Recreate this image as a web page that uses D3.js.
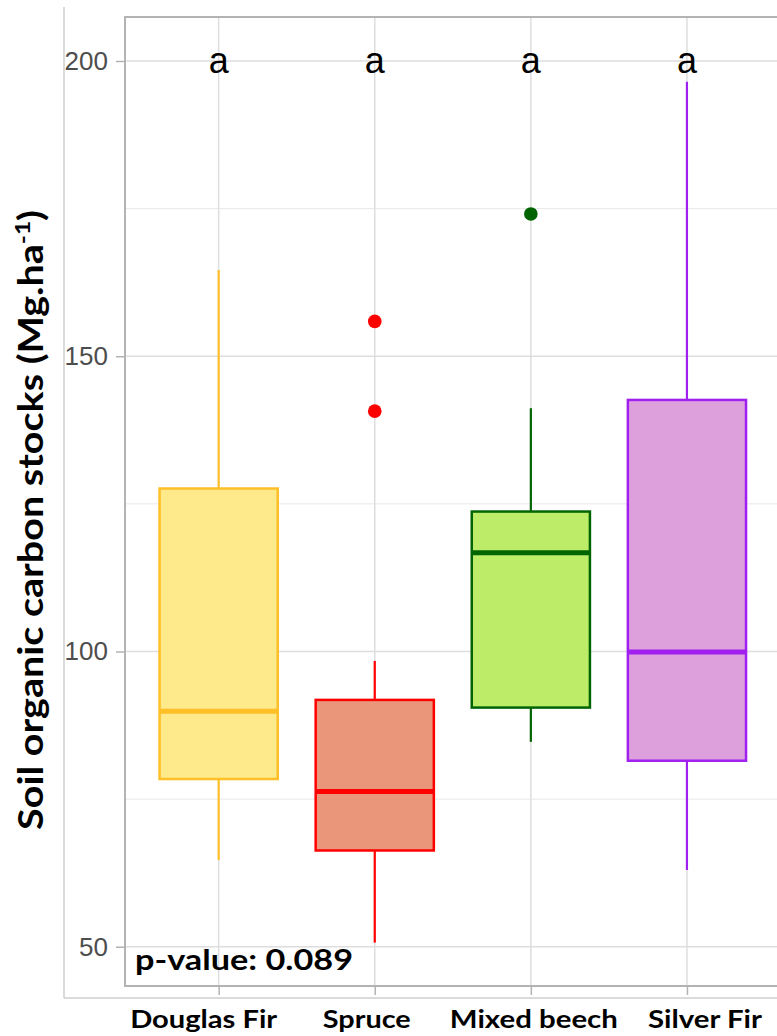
<!DOCTYPE html>
<html>
<head>
<meta charset="utf-8">
<script src="https://cdn.jsdelivr.net/npm/d3@7"></script>
<style>
  html, body { margin: 0; padding: 0; background: #fff; }
  svg { display: block; }
</style>
</head>
<body>
<svg id="chart" width="777" height="1036"></svg>
<script>
// ---- data ----
const categories = ["Douglas Fir", "Spruce", "Mixed beech", "Silver Fir"];
const whiskerLow  = [64.7, 50.7, 84.7, 63.0];
const q1          = [78.4, 66.3, 90.5, 81.5];
const median      = [89.9, 76.3, 116.7, 99.9];
const q3          = [127.6, 91.8, 123.7, 142.6];
const whiskerHigh = [164.6, 98.4, 141.2, 196.5];
const outliers    = [[], [155.9, 140.7], [174.1], []];
const groupLetters = ["a", "a", "a", "a"];
const yTicks = [50, 100, 150, 200];
const yMinorTicks = [75, 125, 175];
const pValueText = "p-value: 0.089";

// ---- styles ----
const fills   = ["#FFEA8B", "#E9967A", "#BDEC69", "#DDA0DD"];
const strokes = ["#FFBF26", "#FF0000", "#006400", "#A020F0"];
const labelOffsets = [-15, -8, 3, 18];
const labelLengths = [147, 88, 168, 114];

const svg = d3.select("#chart");
const panel = { left: 125, right: 780.6, top: 17, bottom: 986 };

const x = d3.scalePoint().domain(categories).range([panel.left, panel.right]).padding(0.6);
const y = d3.scaleLinear().domain([43.35, 207.45]).range([panel.bottom, panel.top]);
const boxW = x.step() * 0.757;

// outer frame lines
svg.append("line").attr("x1", 64).attr("x2", 64).attr("y1", 7).attr("y2", 998)
  .attr("stroke", "#CFCFCF").attr("stroke-width", 1.5);
svg.append("line").attr("x1", 64).attr("x2", 777).attr("y1", 998).attr("y2", 998)
  .attr("stroke", "#CFCFCF").attr("stroke-width", 1.5);

const g = svg.append("g");

// minor gridlines
g.selectAll(".minor").data(yMinorTicks).enter().append("line")
  .attr("x1", panel.left).attr("x2", panel.right)
  .attr("y1", d => y(d)).attr("y2", d => y(d))
  .attr("stroke", "#E8E8E8").attr("stroke-width", 1);
// major gridlines
g.selectAll(".majorY").data(yTicks).enter().append("line")
  .attr("x1", panel.left).attr("x2", panel.right)
  .attr("y1", d => y(d)).attr("y2", d => y(d))
  .attr("stroke", "#DEDEDE").attr("stroke-width", 1.5);
g.selectAll(".majorX").data(categories).enter().append("line")
  .attr("x1", d => x(d)).attr("x2", d => x(d))
  .attr("y1", panel.top).attr("y2", panel.bottom)
  .attr("stroke", "#DEDEDE").attr("stroke-width", 1.5);

// y axis
const yAxis = d3.axisLeft(y).tickValues(yTicks).tickSize(9).tickPadding(8);
const ya = svg.append("g").attr("transform", `translate(${panel.left},0)`).call(yAxis);
ya.select(".domain").remove();
ya.selectAll(".tick line").attr("stroke", "#B3B3B3").attr("stroke-width", 1.5);
ya.selectAll(".tick text")
  .attr("font-family", "'Liberation Sans', Arial, sans-serif")
  .attr("font-size", 26).attr("fill", "#4D4D4D");

// x axis ticks
const xAxis = d3.axisBottom(x).tickSize(9).tickFormat("");
const xa = svg.append("g").attr("transform", `translate(0,${panel.bottom})`).call(xAxis);
xa.select(".domain").remove();
xa.selectAll(".tick line").attr("stroke", "#B3B3B3").attr("stroke-width", 1.5);

// x labels
svg.selectAll(".xlab").data(categories).enter().append("text")
  .attr("x", (d, i) => x(d) + labelOffsets[i])
  .attr("y", 1028)
  .attr("text-anchor", "middle")
  .attr("font-family", "Lato, 'Open Sans', sans-serif")
  .attr("font-weight", "bold")
  .attr("font-size", 24)
  .attr("textLength", (d, i) => labelLengths[i])
  .attr("lengthAdjust", "spacingAndGlyphs")
  .attr("fill", "#000")
  .text(d => d);

// boxes
const boxes = svg.selectAll(".box").data(categories).enter().append("g");
boxes.append("line")
  .attr("x1", d => x(d)).attr("x2", d => x(d))
  .attr("y1", (d, i) => y(q3[i])).attr("y2", (d, i) => y(whiskerHigh[i]))
  .attr("stroke", (d, i) => strokes[i]).attr("stroke-width", 2.2);
boxes.append("line")
  .attr("x1", d => x(d)).attr("x2", d => x(d))
  .attr("y1", (d, i) => y(q1[i])).attr("y2", (d, i) => y(whiskerLow[i]))
  .attr("stroke", (d, i) => strokes[i]).attr("stroke-width", 2.2);
boxes.append("rect")
  .attr("x", d => x(d) - boxW / 2).attr("width", boxW)
  .attr("y", (d, i) => y(q3[i])).attr("height", (d, i) => y(q1[i]) - y(q3[i]))
  .attr("fill", (d, i) => fills[i])
  .attr("stroke", (d, i) => strokes[i]).attr("stroke-width", 2.5);
boxes.append("line")
  .attr("x1", d => x(d) - boxW / 2).attr("x2", d => x(d) + boxW / 2)
  .attr("y1", (d, i) => y(median[i])).attr("y2", (d, i) => y(median[i]))
  .attr("stroke", (d, i) => strokes[i]).attr("stroke-width", 5);

// outliers
categories.forEach((c, i) => {
  svg.selectAll(null).data(outliers[i]).enter().append("circle")
    .attr("cx", x(c)).attr("cy", d => y(d)).attr("r", 6.8)
    .attr("fill", strokes[i]);
});

// panel border
svg.append("rect")
  .attr("x", panel.left).attr("y", panel.top)
  .attr("width", panel.right - panel.left).attr("height", panel.bottom - panel.top)
  .attr("fill", "none").attr("stroke", "#B3B3B3").attr("stroke-width", 2);

// group letters
svg.selectAll(".letter").data(categories).enter().append("text")
  .attr("x", d => x(d)).attr("y", 73)
  .attr("text-anchor", "middle")
  .attr("font-family", "'Liberation Sans', Arial, sans-serif")
  .attr("font-size", 36).attr("fill", "#000")
  .text((d, i) => groupLetters[i]);

// p-value
svg.append("text")
  .attr("x", 135).attr("y", 970)
  .attr("font-family", "Lato, 'Open Sans', sans-serif")
  .attr("font-weight", "bold").attr("font-size", 29)
  .attr("textLength", 218).attr("lengthAdjust", "spacingAndGlyphs")
  .attr("fill", "#000")
  .text(pValueText);

// y title
const ytG = svg.append("g").attr("transform", "translate(43,520) rotate(-90)");
const ytS = ytG.append("g");
const yt = ytS.append("text")
  .attr("text-anchor", "middle")
  .attr("font-family", "Lato, 'Open Sans', sans-serif")
  .attr("font-weight", "bold").attr("font-size", 34)
  .attr("fill", "#000");
yt.append("tspan").text("Soil organic carbon stocks (Mg.ha");
yt.append("tspan").attr("dy", -13).attr("font-size", 21).text("-1");
yt.append("tspan").attr("dy", 13).text(")");
const tw = yt.node().getBBox().width;
ytS.attr("transform", `scale(${620 / tw},1)`);
</script>
</body>
</html>
